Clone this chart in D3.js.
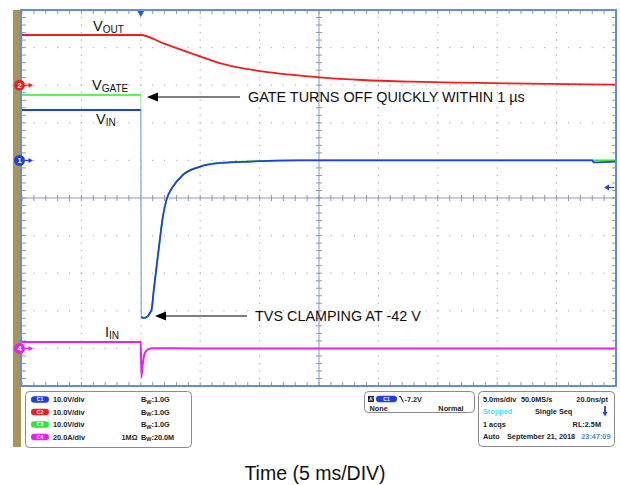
<!DOCTYPE html>
<html><head><meta charset="utf-8">
<script src="https://cdn.jsdelivr.net/npm/d3@7"></script>
<style>
html,body{margin:0;padding:0;background:#fff;}
svg{display:block;font-family:"Liberation Sans",Arial,sans-serif;}
</style></head>
<body><svg id="c" width="620" height="485"></svg>
<script>
// ---------- data (time in ms, trigger at 0) ----------
const vinTime  = [-10, 0, 0.04, 0.25, 0.59, 0.8, 0.9, 1.09, 1.32, 1.6, 1.85, 2.16, 2.69, 3.53, 4.96, 6.36, 9.2, 13.4, 20, 30, 38.0, 38.1, 40];
const vinVolts = [13.4, 13.4, -41.6, -41.9, -41.4, -40.4, -39.8, -34.5, -28.4, -21.2, -15.1, -10.5, -7.1, -3.9, -1.7, -0.8, -0.3, 0, 0, 0, 0, -0.5, -0.3];
const gateTime  = [-10, 0, 0.04, 0.25, 0.59, 0.8, 0.9, 1.09, 1.32, 1.6, 1.85, 2.16, 2.69, 3.53, 4.96, 6.36, 9.2, 13.4, 20, 30, 40];
const gateVolts = [17.4, 17.4, -41.8, -42.0, -41.5, -40.5, -39.9, -34.6, -28.5, -21.2, -15.1, -10.5, -7.0, -3.8, -1.6, -0.7, -0.25, 0.05, 0.05, 0.05, 0.05];
const voutTime  = [-10, 0, 1.85, 4.68, 6.64, 10.25, 15.04, 18.66, 22.86, 27.06, 32.69, 40];
const voutVolts = [13.35, 13.35, 11.2, 8.0, 5.9, 3.65, 2.1, 1.38, 0.93, 0.66, 0.4, 0.13];
const iinTime = [-10, 0, 0.05, 0.14, 0.34, 0.61, 1.0, 5, 40];
const iinAmps = [3.4, 3.4, -15.3, -9.7, -2.4, -0.5, 0.05, 0, 0];

const channelNames  = ["C1", "C2", "C3", "C4"];
const channelScales = ["10.0V/div", "10.0V/div", "10.0V/div", "20.0A/div"];
const channelBW     = ["1.0G", "1.0G", "1.0G", "20.0M"];
const triggerLevel = -7.2;   // V on C1
const xAxisTitle = "Time (5 ms/DIV)";

// ---------- settings ----------
const chCfg = {
  C1: {offset: 1, perDiv: 10, color: "#1f3fe0", light: "#8fa0f0"},
  C2: {offset: 3, perDiv: 10, color: "#f01e1e", light: "#f59090"},
  C3: {offset: 1, perDiv: 10, color: "#2ee82e", light: "#9af09a"},
  C4: {offset: -4, perDiv: 20, color: "#f21cf2", light: "#f59af5"}
};
const svg = d3.select("#c");
const X0 = 22, X1 = 616, Y0 = 10, Y1 = 386;
const x = d3.scaleLinear().domain([-10, 40]).range([X0, X1]);
const yDiv = d3.scaleLinear().domain([-5, 5]).range([Y1, Y0]);
const xDiv = d3.scaleLinear().domain([0, 10]).range([X0, X1]);
const yCh = (ch, v) => yDiv(chCfg[ch].offset + v / chCfg[ch].perDiv);

// gold strip
svg.append("rect").attr("x", 13).attr("y", 10).attr("width", 8).attr("height", 437).attr("fill", "#a99359");
// plot bg
svg.append("rect").attr("x", X0).attr("y", Y0).attr("width", X1 - X0).attr("height", Y1 - Y0).attr("fill", "#fff");

// dotted grid
const gDots = svg.append("g").attr("fill", "#a9afc4");
const minor = d3.range(0, 50.001, 1).map(i => i / 5);
for (let i = 1; i < 10; i++) {
  if (i === 5) continue;
  minor.forEach(m => {
    gDots.append("rect").attr("x", xDiv(i) - 0.6).attr("y", yDiv(m - 5) - 0.6).attr("width", 1.2).attr("height", 1.2);
    gDots.append("rect").attr("x", xDiv(m) - 0.6).attr("y", yDiv(i - 5) - 0.6).attr("width", 1.2).attr("height", 1.2);
  });
}
// center lines with ticks
const gC = svg.append("g").attr("stroke", "#8e98b8").attr("stroke-width", 1);
gC.append("line").attr("x1", X0).attr("x2", X1).attr("y1", yDiv(0)).attr("y2", yDiv(0));
gC.append("line").attr("x1", xDiv(5)).attr("x2", xDiv(5)).attr("y1", Y0).attr("y2", Y1);
minor.forEach(m => {
  gC.append("line").attr("x1", xDiv(m)).attr("x2", xDiv(m)).attr("y1", yDiv(0) - 3).attr("y2", yDiv(0) + 3);
  gC.append("line").attr("y1", yDiv(m - 5)).attr("y2", yDiv(m - 5)).attr("x1", xDiv(5) - 3).attr("x2", xDiv(5) + 3);
  gC.append("line").attr("x1", xDiv(m)).attr("x2", xDiv(m)).attr("y1", Y0).attr("y2", Y0 + 4);
  gC.append("line").attr("x1", xDiv(m)).attr("x2", xDiv(m)).attr("y1", Y1).attr("y2", Y1 - 4);
  gC.append("line").attr("y1", yDiv(m - 5)).attr("y2", yDiv(m - 5)).attr("x1", X0).attr("x2", X0 + 4);
  gC.append("line").attr("y1", yDiv(m - 5)).attr("y2", yDiv(m - 5)).attr("x1", X1).attr("x2", X1 - 4);
});

// traces
function drawTrace(ch, times, vals, width, fadeFast) {
  const pts = times.map((t, i) => [x(t), yCh(ch, vals[i])]);
  const runs = [[pts[0]]];
  const fast = [];
  for (let i = 1; i < pts.length; i++) {
    const dx = pts[i][0] - pts[i - 1][0], dy = Math.abs(pts[i][1] - pts[i - 1][1]);
    if (fadeFast && dx < 1.5 && dy > 20) { fast.push([pts[i - 1], pts[i]]); runs.push([pts[i]]); }
    else runs[runs.length - 1].push(pts[i]);
  }
  const line = d3.line().curve(d3.curveMonotoneX);
  fast.forEach(s => svg.append("line").attr("x1", s[0][0]).attr("y1", s[0][1]).attr("x2", s[1][0]).attr("y2", s[1][1])
    .attr("stroke", chCfg[ch].light).attr("stroke-width", 1));
  runs.forEach(r => svg.append("path").attr("d", line(r)).attr("fill", "none")
    .attr("stroke", chCfg[ch].color).attr("stroke-width", width).attr("stroke-linejoin", "round"));
}
drawTrace("C3", gateTime, gateVolts, 1.6, true);
drawTrace("C1", vinTime, vinVolts, 1.8, true);
drawTrace("C2", voutTime, voutVolts, 1.8, true);
drawTrace("C4", iinTime, iinAmps, 2, false);

// border
svg.append("rect").attr("x", X0 - 1).attr("y", Y0).attr("width", X1 - X0 + 1).attr("height", Y1 - Y0)
  .attr("fill", "none").attr("stroke", "#5d8fdc").attr("stroke-width", 2);

// trigger position marker
svg.append("path").attr("d", `M${x(0) - 3.5},${Y0 + 1}L${x(0) + 3.5},${Y0 + 1}L${x(0)},${Y0 + 7}Z`).attr("fill", "#1f5fe0");
// trigger level marker (right)
const ty = yCh("C1", triggerLevel);
svg.append("line").attr("x1", X1 - 8).attr("x2", X1 - 2).attr("y1", ty).attr("y2", ty).attr("stroke", "#1f3fe0").attr("stroke-width", 1.2);
svg.append("path").attr("d", `M${X1 - 12},${ty}L${X1 - 7},${ty - 3}L${X1 - 7},${ty + 3}Z`).attr("fill", "#1f3fe0");

// channel markers
[["C2", "2"], ["C1", "1"], ["C4", "4"]].forEach(([ch, n]) => {
  const yy = yDiv(chCfg[ch].offset), c = chCfg[ch].color;
  svg.append("line").attr("x1", 24).attr("x2", 29).attr("y1", yy).attr("y2", yy).attr("stroke", c).attr("stroke-width", 1.2);
  svg.append("path").attr("d", `M33,${yy}L28.5,${yy - 2.5}L28.5,${yy + 2.5}Z`).attr("fill", c);
  svg.append("circle").attr("cx", 19.5).attr("cy", yy).attr("r", 5.5).attr("fill", c);
  svg.append("text").attr("x", 19.5).attr("y", yy + 2.6).attr("text-anchor", "middle").attr("font-size", 7.5)
    .attr("font-weight", "bold").attr("fill", "#fff").text(n);
});

// labels with subscripts
function label(xp, yp, main, sub) {
  const t = svg.append("text").attr("x", xp).attr("y", yp).attr("font-size", 14.5).attr("fill", "#111");
  t.append("tspan").text(main);
  t.append("tspan").attr("font-size", 10).attr("dy", 1.5).text(sub);
}
label(93, 31, "V", "OUT");
label(92, 90, "V", "GATE");
label(96, 124, "V", "IN");
label(105, 337, "I", "IN");

// annotations
function annot(tipX, tipY, endX, txt) {
  svg.append("line").attr("x1", tipX + 8).attr("x2", endX).attr("y1", tipY).attr("y2", tipY).attr("stroke", "#000").attr("stroke-width", 1.2);
  svg.append("path").attr("d", `M${tipX},${tipY}L${tipX + 11},${tipY - 4.5}L${tipX + 11},${tipY + 4.5}Z`).attr("fill", "#000");
  svg.append("text").attr("x", endX + 8).attr("y", tipY + 5).attr("font-size", 14.4).attr("fill", "#111").text(txt);
}
annot(147, 97, 240, "GATE TURNS OFF QUICKLY WITHIN 1 µs");
annot(155, 316, 247, "TVS CLAMPING AT -42 V");

// ---------- info panels ----------
function box(bx, by, bw, bh) {
  svg.append("rect").attr("x", bx).attr("y", by).attr("width", bw).attr("height", bh).attr("rx", 4)
    .attr("fill", "#fff").attr("stroke", "#8a8a8a").attr("stroke-width", 1);
}
function txt(tx, ty, s, opt = {}) {
  return svg.append("text").attr("x", tx).attr("y", ty).attr("font-size", opt.size || 7.3).attr("font-weight", "bold")
    .attr("fill", opt.color || "#222").attr("text-anchor", opt.anchor || "start").text(s);
}
function badge(bx, cy, w, col, s) {
  svg.append("rect").attr("x", bx).attr("y", cy - 3.3).attr("width", w).attr("height", 6.6).attr("rx", 3.3).attr("fill", col);
  svg.append("text").attr("x", bx + w / 2).attr("y", cy + 1.8).attr("text-anchor", "middle").attr("font-size", 5)
    .attr("font-weight", "bold").attr("fill", "#fff").text(s);
}
box(25.5, 391.5, 166, 56);
channelNames.forEach((ch, i) => {
  const cy = 399.5 + i * 12.5;
  badge(31, cy, 18, chCfg[ch].color, ch);
  txt(53, cy + 2.6, channelScales[i]);
  const bt = txt(141, cy + 2.6, "B");
  bt.append("tspan").attr("font-size", 5.5).attr("dy", 1.5).text("W");
  bt.append("tspan").attr("dy", -1.5).text(":" + channelBW[i]);
  if (i === 3) txt(121.5, cy + 2.6, "1MΩ");
});
// trigger box
box(364.5, 391.5, 110, 21);
svg.append("rect").attr("x", 368).attr("y", 396).attr("width", 6).attr("height", 6).attr("fill", "#1a1a3a");
svg.append("text").attr("x", 369).attr("y", 401.2).attr("font-size", 5).attr("font-weight", "bold").attr("fill", "#fff").text("A'");
badge(376, 399, 21, chCfg.C1.color, "C1");
svg.append("path").attr("d", "M399,396.5L400.5,396.5L403.5,402.5").attr("fill", "none").attr("stroke", "#222").attr("stroke-width", 1.1);
txt(404.5, 401.6, triggerLevel.toFixed(1) + "V");
txt(369.5, 411, "None");
txt(463.5, 411, "Normal", {anchor: "end"});
// timebase box
box(478.5, 391.5, 136, 55);
txt(483, 401.6, "5.0ms/div");
txt(521, 401.6, "50.0MS/s");
txt(608, 401.6, "20.0ns/pt", {anchor: "end"});
txt(483, 414.2, "Stopped", {color: "#38e8f0"});
txt(535, 414.2, "Single Seq");
svg.append("line").attr("x1", 605).attr("x2", 605).attr("y1", 406).attr("y2", 413).attr("stroke", "#1f3fe0").attr("stroke-width", 1.8);
svg.append("path").attr("d", "M602.5,412L607.5,412L605,416.5Z").attr("fill", "#1f3fe0");
txt(483, 426.6, "1 acqs");
txt(601, 426.6, "RL:2.5M", {anchor: "end"});
txt(483, 439.4, "Auto");
txt(507, 439.4, "September 21, 2018");
txt(610.5, 439.4, "23:47:09", {anchor: "end", color: "#3a8ee8"});

// x-axis title
svg.append("text").attr("x", 315).attr("y", 480).attr("text-anchor", "middle").attr("font-size", 19.5)
  .attr("fill", "#111").text(xAxisTitle);
</script></body></html>
